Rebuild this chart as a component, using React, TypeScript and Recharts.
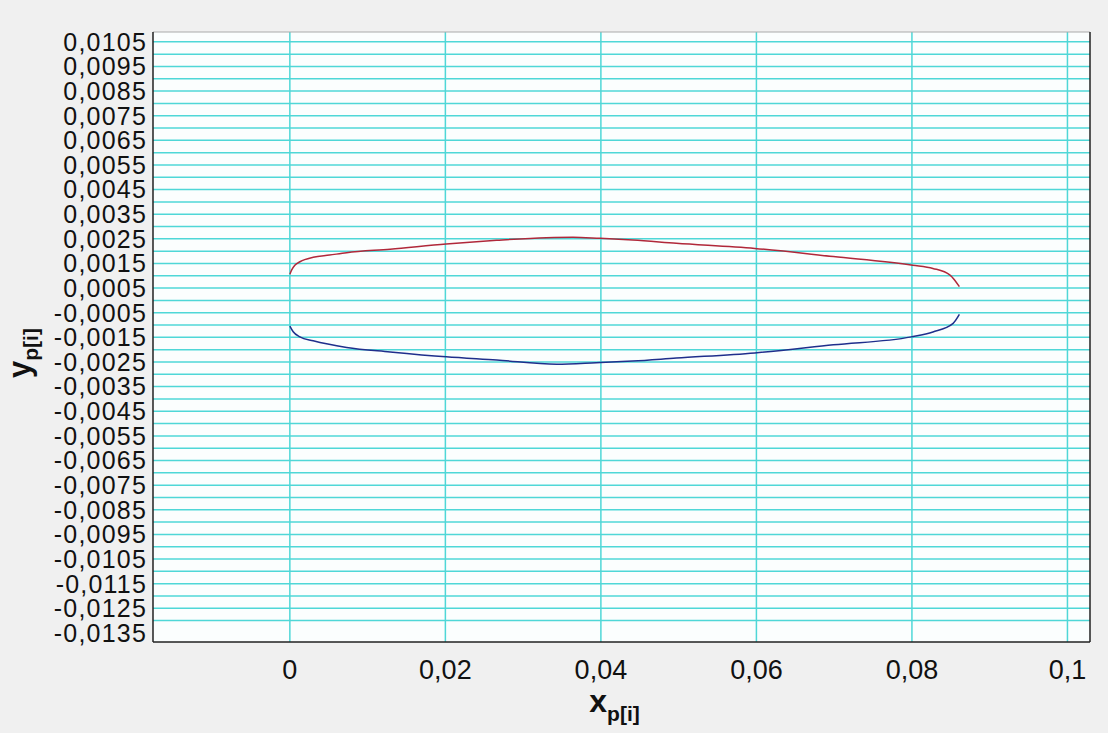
import React from 'react';
import { LineChart, Line, XAxis, YAxis, CartesianGrid, Label } from 'recharts';

// upper (red) and lower (blue) profile
const upperX = [0, 0.00022, 0.00064, 0.0013, 0.003, 0.0051, 0.0073, 0.0129, 0.0201, 0.0266, 0.033, 0.0364, 0.0399, 0.0441, 0.0497, 0.0598, 0.0699, 0.0801, 0.0827, 0.0849, 0.0861];
const upperY = [0.00106, 0.00123, 0.00143, 0.00157, 0.00175, 0.00184, 0.00194, 0.00208, 0.00229, 0.00244, 0.00255, 0.00257, 0.00252, 0.00245, 0.00232, 0.00211, 0.00178, 0.00143, 0.0013, 0.00103, 0.00056];
const lowerX = [0, 0.00043, 0.00129, 0.003, 0.0073, 0.0129, 0.0201, 0.0266, 0.0343, 0.0394, 0.0441, 0.0497, 0.0598, 0.0699, 0.0799, 0.0827, 0.0853, 0.0861];
const lowerY = [-0.00104, -0.00127, -0.00148, -0.00164, -0.00191, -0.00209, -0.00229, -0.00242, -0.00259, -0.00253, -0.00246, -0.00234, -0.00213, -0.0018, -0.00148, -0.00128, -0.00093, -0.00057];

const xTicks = [0, 0.02, 0.04, 0.06, 0.08, 0.1];
const yTicks = [
  0.0105, 0.0095, 0.0085, 0.0075, 0.0065, 0.0055, 0.0045, 0.0035, 0.0025, 0.0015, 0.0005,
  -0.0005, -0.0015, -0.0025, -0.0035, -0.0045, -0.0055, -0.0065, -0.0075, -0.0085, -0.0095,
  -0.0105, -0.0115, -0.0125, -0.0135,
];
const xDomain = [-0.0176, 0.1029];
const yDomain = [-0.01387, 0.0109];

const upper = upperX.map((x, i) => ({ x, y: upperY[i] }));
const lower = lowerX.map((x, i) => ({ x, y: lowerY[i] }));

const r = (v: number) => Math.round(v * 1e7) / 1e7;
const xMinor = Array.from({ length: 30 }, (_, i) => r((i - 4) * 0.004));
const yMinor = Array.from({ length: 248 }, (_, i) => r((i - 138) * 0.0001));
const gridY = Array.from({ length: 48 }, (_, i) => r((i - 26) * 0.0005));

const font = '"Liberation Sans", Arial, sans-serif';
const fmt = (v: number) => String(v).replace('.', ',');
const fmtY = (v: number) => v.toFixed(4).replace('.', ',');

const XTitle = (props: any) => {
  const { x, y, width } = props.viewBox;
  return (
    <text x={x + width / 2 - 7} y={y + 70} textAnchor="middle" fontFamily={font} fontWeight="bold" fontSize={32} fill="#111">
      x<tspan fontSize={21} dy={9}>p[i]</tspan>
    </text>
  );
};

const YTitle = (props: any) => {
  const { x, y, height } = props.viewBox;
  const cx = x + 17;
  const cy = y + height / 2 + 16;
  return (
    <text x={cx} y={cy} transform={`rotate(-90, ${cx}, ${cy})`} textAnchor="middle" fontFamily={font} fontWeight="bold" fontSize={31} fill="#111">
      y<tspan fontSize={21} dy={8}>p[i]</tspan>
    </text>
  );
};

export default function App() {
  return (
    <div style={{ position: 'absolute', left: 0, top: 0, width: 1108, height: 733, background: '#f0f0f0' }}>
      <LineChart width={1108} height={733} margin={{ top: 32, right: 18, bottom: 0, left: 13 }}>
        <CartesianGrid fill="#fbfefe" stroke="#4fd7d7" strokeWidth={1.5} horizontalValues={gridY} verticalValues={xTicks} />

        {/* labelled axes */}
        <XAxis
          type="number"
          dataKey="x"
          domain={xDomain}
          allowDataOverflow
          ticks={xTicks}
          interval={0}
          tickFormatter={fmt}
          height={91}
          axisLine={false}
          tickLine={false}
          tickSize={0}
          tickMargin={18}
          tick={{ fontSize: 27, fill: '#111', fontFamily: font }}
        >
          <Label content={XTitle} />
        </XAxis>
        <YAxis
          type="number"
          domain={yDomain}
          allowDataOverflow
          ticks={yTicks}
          interval={0}
          tickFormatter={fmtY}
          width={140}
          axisLine={false}
          tickLine={false}
          tickSize={0}
          tickMargin={6}
          tick={{ fontSize: 25, fill: '#111', fontFamily: font, letterSpacing: 1.2 }}
        >
          <Label content={YTitle} />
        </YAxis>

        {/* minor tick axes, mirrored so the ticks point into the frame */}
        <XAxis xAxisId="bm" type="number" dataKey="x" domain={xDomain} allowDataOverflow ticks={xMinor} interval={0} height={1} mirror tick={false} tickSize={4} axisLine={{ stroke: '#222', strokeWidth: 1.5 }} tickLine={{ stroke: '#333' }} />
        <XAxis xAxisId="tm" orientation="top" type="number" dataKey="x" domain={xDomain} allowDataOverflow ticks={xMinor} interval={0} height={1} mirror tick={false} tickSize={4} axisLine={{ stroke: '#aaa' }} tickLine={{ stroke: '#555' }} />
        <YAxis yAxisId="lm" type="number" domain={yDomain} allowDataOverflow ticks={yMinor} interval={0} width={1} mirror tick={false} tickSize={4} axisLine={{ stroke: '#222', strokeWidth: 1.5 }} tickLine={{ stroke: '#444' }} />
        <YAxis yAxisId="rm" orientation="right" type="number" domain={yDomain} allowDataOverflow ticks={yMinor} interval={0} width={1} mirror tick={false} tickSize={4} axisLine={{ stroke: '#222', strokeWidth: 1.5 }} tickLine={{ stroke: '#444' }} />

        <Line data={upper} dataKey="y" type="monotone" stroke="#b0283a" strokeWidth={1.5} dot={false} isAnimationActive={false} />
        <Line data={lower} dataKey="y" type="monotone" stroke="#1f2f8c" strokeWidth={1.5} dot={false} isAnimationActive={false} />
      </LineChart>
    </div>
  );
}
